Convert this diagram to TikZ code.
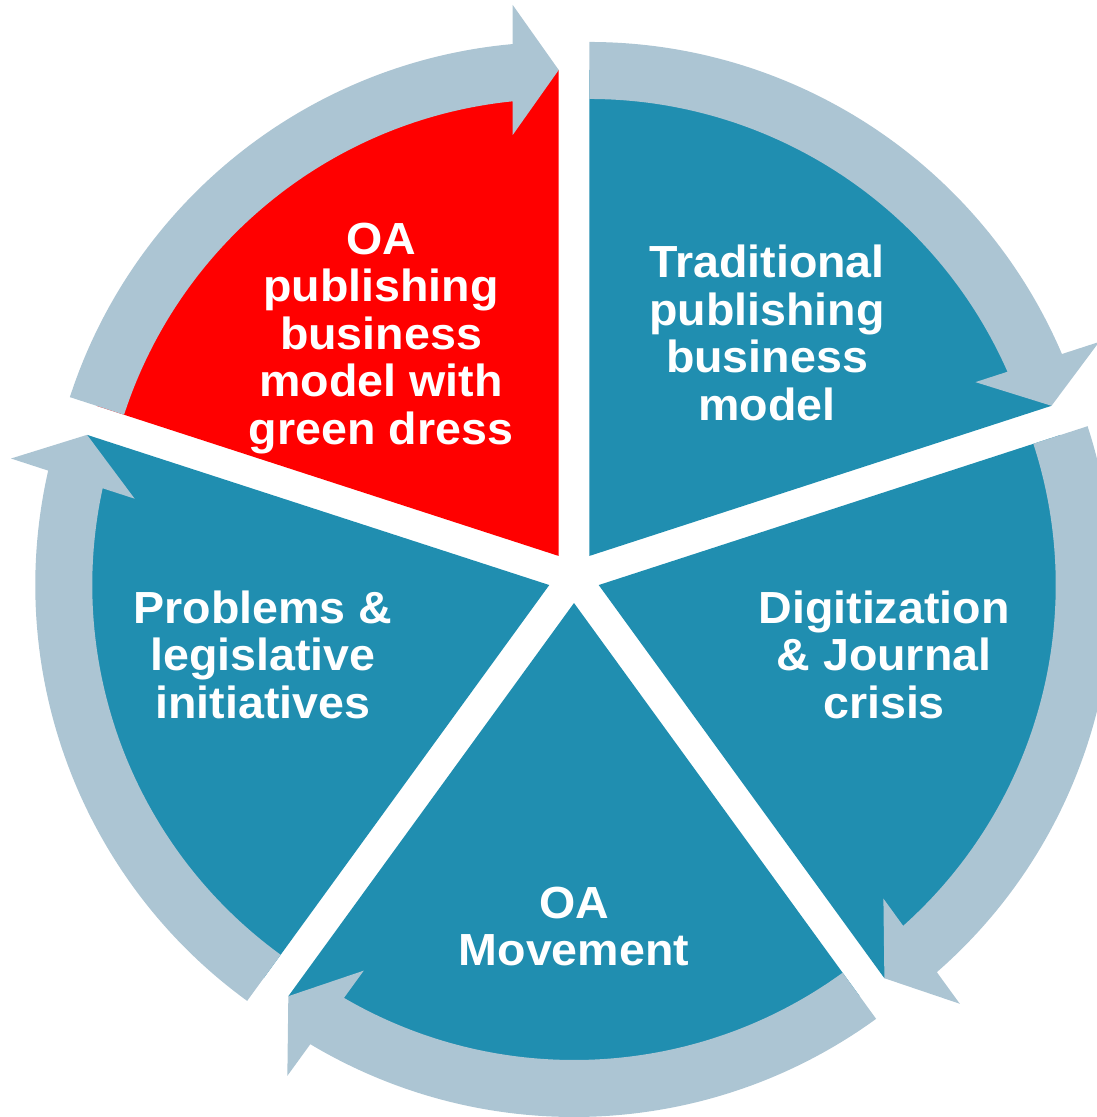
\documentclass[tikz,border=0pt]{standalone}
\usepackage{fontspec}
\setmainfont[FakeStretch=1.035]{Liberation Sans}
\usetikzlibrary{calc}
\definecolor{segteal}{RGB}{32,142,176}
\definecolor{segred}{RGB}{255,0,0}
\definecolor{ringblue}{RGB}{172,197,211}
\tikzset{
  lbl/.style={text=white, font=\fontsize{45}{47.5}\selectfont\bfseries, align=center, inner sep=0pt},
}
\newcommand\ftop{\rule{0pt}{36pt}}
\newcommand\fbot{\rule[-12pt]{0pt}{12pt}}
\begin{document}
\begin{tikzpicture}[x=1pt,y=1pt]
\useasboundingbox (0,0) rectangle (1097,-1117);
\coordinate (C) at (574,-577);
\foreach \m/\col in {54/segteal,-18/segteal,-90/segteal,-162/segteal,126/segred}{
  \pgfmathsetmacro{\sa}{\m+36}
  \pgfmathsetmacro{\ea}{\m-36}
  \pgfmathsetmacro{\shi}{\m-36+5.777}
  \pgfmathsetmacro{\sho}{\m-36+5.135}
  \pgfmathsetmacro{\na}{\m+54}
  \pgfmathsetmacro{\oa}{\m+144}
  \coordinate (A) at ($(C)+(\m:26)$);
  \fill[\col] (A) -- ($(A)+(\sa:486)$) arc[start angle=\sa, end angle=\ea, radius=486] -- cycle;
  \coordinate (T) at ($(A)+(\ea:486)$);
  \coordinate (B) at ($(T)+(\na:46)$);
  \fill[ringblue] ($(A)+(\sa:457)$) arc[start angle=\sa, end angle=\shi, radius=457]
     -- ($(B)+(\oa:65)$) -- (T) -- ($(B)+(\ea:65)$)
     -- ($(A)+(\sho:514)$) arc[start angle=\sho, end angle=\sa, radius=514] -- cycle;
}
\node[lbl] (t1) at (381,-337) {\ftop OA\\publishing\\business\\model with\\green dress\fbot};
\node[lbl] (t2) at (767,-337) {\ftop Traditional\\publishing\\business\\model\fbot};
\node[lbl] (t3) at (884,-658.5) {\ftop Digitization\\\& Journal\\crisis\fbot};
\node[lbl] (t4) at (574,-929.75) {\ftop OA\\Movement\fbot};
\node[lbl] (t5) at (263,-658.5) {\ftop Problems \&\\legislative\\initiatives\fbot};
\end{tikzpicture}
\end{document}
